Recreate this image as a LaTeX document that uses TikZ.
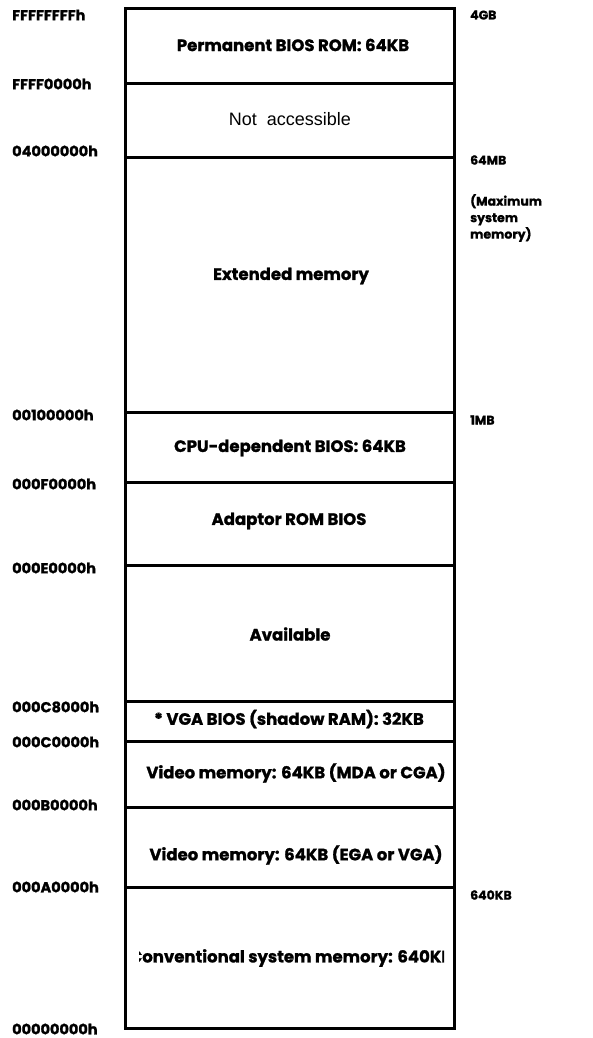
\documentclass[tikz,border=0pt]{standalone}
\usepackage{fontspec}
\setmainfont{Poppins}[BoldFeatures={FakeBold=1.2}]
\newfontfamily\arialfont{Liberation Sans}
\begin{document}
\begin{tikzpicture}[x=1pt,y=-1pt,
  wall/.style={line width=3pt,draw=black},
  addr/.style={anchor=west,inner sep=0pt,font=\bfseries\fontsize{14.5}{16}\selectfont},
  size/.style={anchor=west,inner sep=0pt,font=\bfseries\fontsize{12.5}{14}\selectfont},
  note/.style={anchor=north west,inner sep=0pt,align=left,font=\bfseries\fontsize{12.5}{16.5}\selectfont},
  region/.style={inner sep=0pt,font=\bfseries\fontsize{16.5}{18}\selectfont},
  plain/.style={inner sep=0pt,font=\arialfont\fontsize{18}{20}\selectfont}]
\useasboundingbox (0,0) rectangle (592,1038);
% outer frame and dividing lines
\draw[wall] (125,9) rectangle (454,1028);
\foreach \y in {84,157,412,482,565,701,741,807,887}
  \draw[wall] (125,\y) -- (454,\y);
% region texts
\node[region] (perm) at (293,45) {Permanent BIOS ROM: 64KB};
\node[plain] (na) at (290,119) {Not\ \ accessible};
\node[region] (ext) at (291,276) {Extended memory};
\node[region] (cpu) at (290,448) {CPU-dependent BIOS: 64KB};
\node[region] (adp) at (289,521) {Adaptor ROM BIOS};
\node[region] (avl) at (290,634) {Available};
\node[region] (vga) at (289,719) {* VGA BIOS (shadow RAM): 32KB};
\begin{scope}
  \clip (127,743) rectangle (445,805);
  \node[region] (mda) at (296,773) {Video memory: 64KB (MDA or CGA)};
\end{scope}
\node[region] (ega) at (296,855) {Video memory: 64KB (EGA or VGA)};
\begin{scope}
  \clip (139,889) rectangle (444,1026);
  \node[region] (conv) at (291,958) {Conventional system memory: 640KB};
\end{scope}
% addresses
\node[addr] (a1) at (12,15) {FFFFFFFFh};
\node[addr] (a2) at (12,84) {FFFF0000h};
\node[addr] (a3) at (12,151) {04000000h};
\node[addr] (a4) at (12,415) {00100000h};
\node[addr] (a5) at (12,484) {000F0000h};
\node[addr] (a6) at (12,568) {000E0000h};
\node[addr] (a7) at (12,707) {000C8000h};
\node[addr] (a8) at (12,742) {000C0000h};
\node[addr] (a9) at (12,805) {000B0000h};
\node[addr] (a10) at (12,887) {000A0000h};
\node[addr] (a11) at (12,1029) {00000000h};
% sizes
\node[size] (s1) at (470,15) {4GB};
\node[size] (s2) at (470,160) {64MB};
\node[note] (s3) at (470,194) {(Maximum\\system\\memory)};
\node[size] (s4) at (470,420) {1MB};
\node[size] (s5) at (470,895) {640KB};
\end{tikzpicture}
\end{document}
